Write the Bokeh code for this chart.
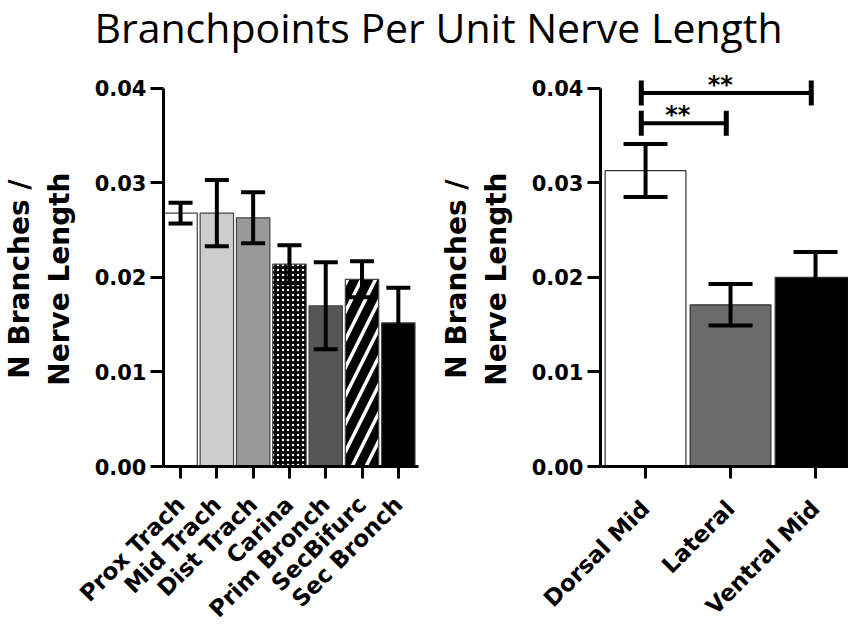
import math
from bokeh.plotting import figure
from bokeh.models import (Range1d, FixedTicker, ColumnDataSource, Whisker, TeeHead,
                          Arrow, LabelSet)
from bokeh.layouts import column, row
from bokeh.embed import file_html
from bokeh.resources import INLINE
from bokeh.core.properties import value

# ---------------- data ----------------
TITLE = "Branchpoints Per Unit Nerve Length"
Y_LABEL_LINES = ["N Branches /", "Nerve Length"]
y_ticks = [0.0, 0.01, 0.02, 0.03, 0.04]
y_tick_labels = ["0.00", "0.01", "0.02", "0.03", "0.04"]

left_categories = ["Prox Trach", "Mid Trach", "Dist Trach", "Carina",
                   "Prim Bronch", "SecBifurc", "Sec Bronch"]
left_means = [0.0268, 0.0268, 0.0263, 0.0214, 0.0170, 0.0198, 0.0152]
left_sem = [0.0011, 0.0035, 0.0027, 0.0020, 0.0046, 0.0019, 0.0037]

right_categories = ["Dorsal Mid", "Lateral", "Ventral Mid"]
right_means = [0.0313, 0.0171, 0.0200]
right_sem = [0.0028, 0.0022, 0.0027]

sig_from = [0, 0]
sig_to = [2, 1]
sig_labels = ["**", "**"]
sig_levels = [0.0395, 0.0363]

# ---------------- styles ----------------
FONT = "DejaVu Sans"
left_fill = ["white", "#cdcdcd", "#9a9a9a", "black", "#555555", "black", "black"]
left_hatch = ["blank", "blank", "blank", "dot", "blank", "right_diagonal_line", "blank"]
left_hatch_scale = [10, 10, 10, 5, 10, 28, 10]
left_hatch_weight = [1, 1, 1, 3, 1, 3.5, 1]
right_fill = ["white", "#6b6b6b", "black"]

PLOT_H = 572
BOTTOM = 165
Y_END = 0.04273          # frame reaches above 0.04 so the brackets fit
PAD = "\u00a0" * 3       # keeps the rotated axis title centred on 0..0.04


def style_axes(p, n_cat, cats, x_standoff):
    p.xgrid.visible = False
    p.ygrid.visible = False
    p.outline_line_color = None
    p.background_fill_color = "white"
    p.border_fill_color = "white"
    for ax in (p.xaxis[0], p.yaxis[0]):
        ax.axis_line_width = 3
        ax.axis_line_color = "black"
        ax.major_tick_line_width = 3
        ax.major_tick_line_color = "black"
        ax.major_tick_in = 0
        ax.minor_tick_line_color = None
        ax.major_label_text_font = FONT
        ax.major_label_text_font_style = "bold"
        ax.major_label_text_color = "black"
    ya = p.yaxis[0]
    ya.ticker = FixedTicker(ticks=y_ticks)
    ya.major_label_overrides = {t: l for t, l in zip(y_ticks, y_tick_labels)}
    ya.bounds = (y_ticks[0], y_ticks[-1])
    ya.major_tick_out = 13
    ya.major_label_standoff = 4
    ya.major_label_text_font_size = "21px"
    ya.axis_label = "\n".join(line + PAD for line in Y_LABEL_LINES)
    ya.axis_label_text_font = FONT
    ya.axis_label_text_font_style = "bold"
    ya.axis_label_text_font_size = "28px"
    ya.axis_label_text_color = "black"
    ya.axis_label_standoff = 16
    xa = p.xaxis[0]
    xa.ticker = FixedTicker(ticks=list(range(n_cat)))
    xa.major_label_overrides = {i: c for i, c in enumerate(cats)}
    xa.major_label_orientation = math.pi / 4
    xa.major_label_text_font_size = "23px"
    xa.major_tick_out = 12
    xa.major_label_standoff = x_standoff


# ---------------- title ----------------
tp = figure(width=848, height=62, x_range=Range1d(0, 848), y_range=Range1d(0, 62),
            toolbar_location=None, output_backend="svg", title=None,
            x_axis_location=None, y_axis_location=None,
            min_border=0, min_border_top=0, min_border_bottom=0,
            min_border_left=0, min_border_right=0, outline_line_color=None)
tp.xgrid.visible = False
tp.ygrid.visible = False
tp.text(x=[438], y=[36], text=[TITLE], text_font=value("Open Sans"),
        text_font_size="41px", text_align="center", text_baseline="middle",
        text_color="black")

# ---------------- left panel ----------------
lx = list(range(len(left_categories)))
lsrc = ColumnDataSource(dict(
    x=lx, top=left_means,
    upper=[m + s for m, s in zip(left_means, left_sem)],
    lower=[m - s for m, s in zip(left_means, left_sem)],
    fill=left_fill, hatch=left_hatch, hs=left_hatch_scale, hw=left_hatch_weight,
))
pl = figure(width=430, height=PLOT_H, x_range=Range1d(-0.47, 6.556),
            y_range=Range1d(0, Y_END), toolbar_location=None, output_backend="svg",
            min_border_left=163, min_border_right=12, min_border_top=0,
            min_border_bottom=BOTTOM)
pl.vbar(x="x", top="top", bottom=0, width=0.92, source=lsrc,
        fill_color="fill", line_color="#444444", line_width=1.2,
        hatch_pattern="hatch", hatch_color="white", hatch_scale="hs",
        hatch_weight="hw")
pl.add_layout(Whisker(base="x", upper="upper", lower="lower", source=lsrc,
                      line_width=4, line_color="black", level="annotation",
                      upper_head=TeeHead(size=24, line_width=4, line_color="black"),
                      lower_head=TeeHead(size=24, line_width=4, line_color="black")))
style_axes(pl, len(left_categories), left_categories, 22)

# ---------------- right panel ----------------
rx = list(range(len(right_categories)))
rsrc = ColumnDataSource(dict(
    x=rx, top=right_means,
    upper=[m + s for m, s in zip(right_means, right_sem)],
    lower=[m - s for m, s in zip(right_means, right_sem)],
    fill=right_fill,
))
pr = figure(width=418, height=PLOT_H, x_range=Range1d(-0.53, 2.388),
            y_range=Range1d(0, Y_END), toolbar_location=None, output_backend="svg",
            min_border_left=170, min_border_right=0, min_border_top=0,
            min_border_bottom=BOTTOM)
pr.vbar(x="x", top="top", bottom=0, width=0.95, source=rsrc,
        fill_color="fill", line_color="#333333", line_width=1.2)
pr.add_layout(Whisker(base="x", upper="upper", lower="lower", source=rsrc,
                      line_width=4, line_color="black", level="annotation",
                      upper_head=TeeHead(size=44, line_width=4, line_color="black"),
                      lower_head=TeeHead(size=44, line_width=4, line_color="black")))

# significance brackets
shift = -0.05
bsrc = ColumnDataSource(dict(
    x0=[a + shift for a in sig_from],
    x1=[b + shift for b in sig_to],
    xm=[(a + b) / 2 + shift for a, b in zip(sig_from, sig_to)],
    y=sig_levels,
    lab=sig_labels,
))
pr.add_layout(Arrow(x_start="x0", y_start="y", x_end="x1", y_end="y", source=bsrc,
                    line_width=4, line_color="black", level="annotation",
                    start=TeeHead(size=25, line_width=5, line_color="black"),
                    end=TeeHead(size=25, line_width=5, line_color="black")))
pr.add_layout(LabelSet(x="xm", y="y", text="lab", source=bsrc,
                       text_font=value(FONT), text_font_style="bold",
                       text_font_size="24px", text_align="center",
                       text_baseline="alphabetic", x_offset=-6, y_offset=0,
                       text_color="black", level="annotation"))
style_axes(pr, len(right_categories), right_categories, 26)

layout = column(tp, row(pl, pr))
open("out.html", "w").write(file_html(layout, INLINE))
